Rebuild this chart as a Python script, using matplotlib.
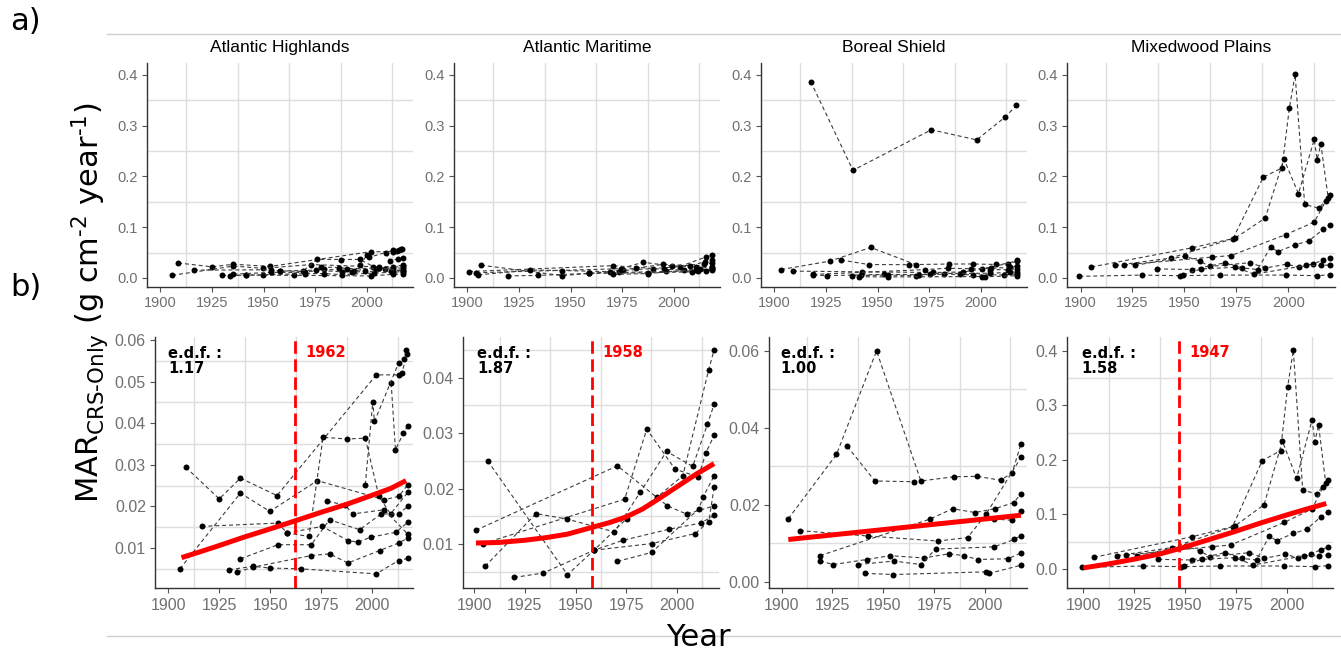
import matplotlib
matplotlib.use("Agg")
import matplotlib.pyplot as plt
from matplotlib.lines import Line2D
from matplotlib.transforms import blended_transform_factory

# ---------------- data ----------------
regions = ["Atlantic Highlands", "Atlantic Maritime", "Boreal Shield", "Mixedwood Plains"]
edf_values = ["1.17", "1.87", "1.00", "1.58"]
breakpoints = [1962, 1958, None, 1947]

# Atlantic Highlands cores
ah_years = [
    [1908.6, 1925, 1935.4, 1953.3, 2002, 2012.9, 2014.5, 2017.1],
    [1905.7, 1935.4, 1949.8, 1973.1, 2006, 2012.9, 2017.5],
    [1916.3, 1953.8, 1958.2, 1969, 1975.9, 1987.6, 1996.6, 2003.3, 2009, 2017.5],
    [1929.9, 1941.6, 1949.8, 1964.9, 2002, 2012.9, 2017.5],
    [1933.9, 1941.6, 1970.1, 1979.1, 1988.1, 2003.6, 2012.9, 2017.5],
    [1935.4, 1953.8, 1970.1, 1979.1, 1993.8, 2004.4, 2012.9, 2017.5],
    [1958.2, 1975.5, 1988.1, 1993, 1999.3, 2011.7, 2017.5],
    [1978, 1986.5, 1990.5, 2006, 2017.5],
    [2009.3, 2011.4, 2015.3, 2017.5],
    [1996.6, 2000.3, 2001.1, 2012.9, 2015.8, 2016.6],
]
ah_mar = [
    [0.0294, 0.0218, 0.0268, 0.0226, 0.0516, 0.0516, 0.0520, 0.0566],
    [0.0050, 0.0232, 0.0188, 0.0262, 0.0216, 0.0224, 0.0252],
    [0.0152, 0.0160, 0.0136, 0.0128, 0.0366, 0.0362, 0.0364, 0.0224, 0.0182, 0.0234],
    [0.0048, 0.0056, 0.0052, 0.0050, 0.0038, 0.0070, 0.0075],
    [0.0042, 0.0054, 0.0082, 0.0086, 0.0064, 0.0094, 0.0112, 0.0124],
    [0.0074, 0.0108, 0.0108, 0.0168, 0.0144, 0.0182, 0.0182, 0.0200],
    [0.0136, 0.0152, 0.0118, 0.0114, 0.0126, 0.0138, 0.0162],
    [0.0212, 0.0204, 0.0182, 0.0192, 0.0133],
    [0.0496, 0.0336, 0.0376, 0.0394],
    [0.0252, 0.0452, 0.0404, 0.0544, 0.0554, 0.0576],
]

# Atlantic Maritime cores
am_years = [
    [1906.6, 1946, 1959.1, 1975.3, 1990.1, 2003, 2015.8, 2018.5],
    [1900.8, 1970.7, 1995.4, 2004.9, 2018.5],
    [1904.4, 1974.3, 1985.2, 1999.2, 2010.7, 2014.5, 2018.5],
    [1905.3, 1930.5, 1946, 1969.2, 1981.9, 1995, 2007.9, 2015.2, 2018.5],
    [1919.6, 1934.1, 1959.1, 1973.6, 1996.4, 2012, 2018.5],
    [1959.1, 1987.6, 2009.1, 2015.8, 2018.5],
    [1970.7, 1987.6, 2011, 2012.9, 2018.5],
]
am_mar = [
    [0.0250, 0.0045, 0.0089, 0.0146, 0.0184, 0.0223, 0.0414, 0.0450],
    [0.0125, 0.0241, 0.0169, 0.0154, 0.0169],
    [0.0101, 0.0181, 0.0307, 0.0235, 0.0221, 0.0265, 0.0296],
    [0.0060, 0.0155, 0.0145, 0.0122, 0.0193, 0.0267, 0.0240, 0.0316, 0.0352],
    [0.0040, 0.0048, 0.0089, 0.0107, 0.0127, 0.0138, 0.0152],
    [0.0089, 0.0101, 0.0119, 0.0140, 0.0202],
    [0.0069, 0.0085, 0.0164, 0.0184, 0.0223],
]

# Boreal Shield cores
bs_years = [
    [1903.3, 1927, 1946.7, 1968.5, 1984.8, 1996.2, 2007.7, 2013.4, 2017.7],
    [1932.3, 1945.9, 1965.2],
    [1909, 1942.6, 1977, 1991.5, 2000.5, 2017.7],
    [1918.9, 1973, 1984.1, 1995.1, 2004.9, 2014.3, 2017.7],
    [1918.9, 1925.4, 1941.8, 1953.3, 1970, 1982.3, 1989.8, 1996.4, 2011.5, 2017.7],
    [1937.7, 1955.2, 1968.5, 1975.7, 2004.6, 2014.4, 2017.7],
    [1941, 1954.9, 2000.5, 2002.1, 2017.7],
    [2004.4, 2013.4, 2017.7],
]
bs_mar = [
    [0.0164, 0.0331, 0.0600, 0.0262, 0.0273, 0.0274, 0.0264, 0.0283, 0.0358],
    [0.0352, 0.0262, 0.0260],
    [0.0133, 0.0119, 0.0106, 0.0115, 0.0175, 0.0323],
    [0.0068, 0.0163, 0.0190, 0.0180, 0.0190, 0.0206, 0.0229],
    [0.0054, 0.0045, 0.0058, 0.0068, 0.0062, 0.0073, 0.0068, 0.0058, 0.0060, 0.0075],
    [0.0045, 0.0054, 0.0045, 0.0085, 0.0091, 0.0110, 0.0120],
    [0.0022, 0.0019, 0.0026, 0.0022, 0.0043],
    [0.0163, 0.0160, 0.0183],
]
# Boreal Shield core shown only in panel a)
bs_outlier_years = [1917.6, 1938.1, 1976.1, 1998.1, 2011.9, 2017.4]
bs_outlier_mar = [0.387, 0.212, 0.292, 0.272, 0.317, 0.340]

# Mixedwood Plains cores
mp_years = [
    [1899.5, 1929.5, 1947.9, 1967.2, 1998.9, 2013.9, 2020.2],
    [1905.2, 1953.6, 1973.4, 1988, 1997, 2000.5, 2003.3, 2007.9, 2014.8, 2020.2],
    [1916.7, 1943.4, 1974.6, 1988.9, 1997.9, 2004.9, 2012.5, 2013.9, 2015.7, 2019.2],
    [1921, 1963.1, 1972.5, 1998.9, 2012.5, 2018],
    [1926.2, 1950.3, 1957.4, 1962.3, 1981.6, 1989, 1999.2, 2005.4, 2011.8, 2016.7, 2020.2],
    [1936.9, 1953.6, 1969.7, 1977.9, 1985.2, 1991.5, 1995.1, 2003.3, 2009.8, 2016.9, 2020.2],
    [1949.5, 1958.2, 1974.6, 1983.6, 2008.5, 2016, 2020.2],
]
mp_mar = [
    [0.003, 0.0055, 0.0043, 0.0055, 0.0055, 0.0043, 0.0061],
    [0.0214, 0.0592, 0.0775, 0.1985, 0.2168, 0.334, 0.401, 0.1447, 0.1374, 0.163],
    [0.0244, 0.0391, 0.0788, 0.1179, 0.2345, 0.166, 0.273, 0.2333, 0.2638, 0.158],
    [0.0256, 0.0409, 0.044, 0.0855, 0.110, 0.151],
    [0.0244, 0.0427, 0.033, 0.0226, 0.0299, 0.0195, 0.0269, 0.0208, 0.0275, 0.0348, 0.040],
    [0.0177, 0.0165, 0.0299, 0.0195, 0.0165, 0.0604, 0.0519, 0.0653, 0.0727, 0.0959, 0.105],
    [0.006, 0.0177, 0.0208, 0.0073, 0.0244, 0.0244, 0.0256],
]

# GAM fits (red lines)
ah_fit_year = [1906.5, 1915, 1925, 1937, 1950, 1962, 1975, 1988, 2000, 2009, 2016.6]
ah_fit_mar = [0.0077, 0.0090, 0.0106, 0.0126, 0.0146, 0.0165, 0.0186, 0.0206, 0.0227, 0.0243, 0.0262]
am_fit_year = [1900.8, 1912, 1925, 1936, 1946, 1959, 1967, 1975, 1983, 1990, 2000, 2010, 2018.5]
am_fit_mar = [0.0102, 0.0103, 0.0107, 0.0112, 0.0118, 0.0131, 0.0139, 0.0149, 0.0163, 0.0179,
              0.0203, 0.0227, 0.0245]
bs_fit_year = [1903.3, 2017.7]
bs_fit_mar = [0.0110, 0.0173]
mp_fit_year = [1900, 1912, 1925, 1937, 1947, 1961, 1974, 1987, 2000, 2010, 2019.5]
mp_fit_mar = [0.002, 0.009, 0.018, 0.027, 0.037, 0.053, 0.068, 0.084, 0.099, 0.110, 0.120]

core_years = [ah_years, am_years, bs_years, mp_years]
core_mar = [ah_mar, am_mar, bs_mar, mp_mar]
fit_years = [ah_fit_year, am_fit_year, bs_fit_year, mp_fit_year]
fit_mar = [ah_fit_mar, am_fit_mar, bs_fit_mar, mp_fit_mar]

x_major = [1900, 1925, 1950, 1975, 2000]
x_minor = [1912.5, 1937.5, 1962.5, 1987.5, 2012.5]

# ---------------- layout / style ----------------
W, H = 1341, 653
fig = plt.figure(figsize=(W / 100, H / 100), dpi=100)
fig.patch.set_facecolor("white")

def rect(l, t, r, b):
    return [l / W, 1 - b / H, (r - l) / W, (b - t) / H]

top_rects = [(147, 63, 413, 287), (454, 63, 720, 287), (761, 63, 1027, 287), (1067, 63, 1335, 287)]
bot_rects = [(155, 337, 413, 588), (463, 337, 719, 588), (769, 337, 1027, 588), (1067, 337, 1333, 588)]
bot_xlims = [(1893.5, 2020), (1894.4, 2020.9), (1893.8, 2020.7), (1892, 2022.8)]
bot_ylims = [(0.0004, 0.0607), (0.0021, 0.0473), (-0.0016, 0.0636), (-0.0348, 0.425)]
bot_yticks = [[0.01, 0.02, 0.03, 0.04, 0.05, 0.06], [0.01, 0.02, 0.03, 0.04],
              [0.0, 0.02, 0.04, 0.06], [0.0, 0.1, 0.2, 0.3, 0.4]]
bot_yminor = [[0.005, 0.015, 0.025, 0.035, 0.045, 0.055], [0.005, 0.015, 0.025, 0.035, 0.045],
              [0.01, 0.03, 0.05], [0.05, 0.15, 0.25, 0.35]]
bot_yfmt = ["%.2f", "%.2f", "%.2f", "%.1f"]
edf_x = [0.05, 0.055, 0.045, 0.055]

TICKFONT = "Liberation Sans"
LINE_KW = dict(color="#3c3c3c", lw=0.8, ls=(0, (3.6, 2.6)), marker="o", ms=4.3,
               mfc="black", mec="black", mew=0, zorder=2)


def style(ax, xlim, ylim, yticks, yminor, fmt, fs):
    ax.set_xlim(*xlim)
    ax.set_ylim(*ylim)
    ax.set_xticks(x_major)
    ax.set_xticklabels([str(v) for v in x_major])
    ax.set_xticks(x_minor, minor=True)
    ax.set_yticks(yticks)
    ax.set_yticklabels([fmt % v for v in yticks])
    ax.set_yticks(yminor, minor=True)
    ax.grid(which="minor", color="#dedede", lw=1.0, zorder=0)
    ax.grid(which="major", visible=False)
    ax.set_axisbelow(True)
    for s in ("top", "right"):
        ax.spines[s].set_visible(False)
    for s in ("left", "bottom"):
        ax.spines[s].set_color("#333333")
        ax.spines[s].set_linewidth(1.0)
    ax.tick_params(which="major", direction="out", length=3.5, width=0.8, color="#555555",
                   labelcolor="#707070", labelsize=fs, pad=3)
    ax.tick_params(which="minor", length=0)
    for lab in ax.get_xticklabels() + ax.get_yticklabels():
        lab.set_fontfamily(TICKFONT)


# top row (a)
for i in range(4):
    ax = fig.add_axes(rect(*top_rects[i]))
    for yrs, vals in zip(core_years[i], core_mar[i]):
        ax.plot(yrs, vals, **LINE_KW)
    if i == 2:
        ax.plot(bs_outlier_years, bs_outlier_mar, **LINE_KW)
    style(ax, (1893.5, 2022.5), (-0.018, 0.4236), [0.0, 0.1, 0.2, 0.3, 0.4],
          [0.05, 0.15, 0.25, 0.35], "%.1f", 10.5)
    ax.set_title(regions[i], fontsize=12.5, fontfamily="Liberation Sans", color="black", pad=8)

# bottom row (b)
for i in range(4):
    ax = fig.add_axes(rect(*bot_rects[i]))
    for yrs, vals in zip(core_years[i], core_mar[i]):
        ax.plot(yrs, vals, **LINE_KW)
    ax.plot(fit_years[i], fit_mar[i], color="red", lw=3.6, solid_capstyle="butt",
            solid_joinstyle="round", zorder=3)
    style(ax, bot_xlims[i], bot_ylims[i], bot_yticks[i], bot_yminor[i], bot_yfmt[i], 11.5)
    ax.tick_params(axis="x", pad=4)
    ax.text(edf_x[i], 0.965, "e.d.f. :\n" + edf_values[i], transform=ax.transAxes,
            ha="left", va="top", fontsize=10.5, fontweight="bold", color="black",
            linespacing=1.0, zorder=5)
    bp = breakpoints[i]
    if bp is not None:
        ax.axvline(bp, color="red", lw=2.0, ls=(0, (4.5, 2.0)), zorder=4)
        tr = blended_transform_factory(ax.transData, ax.transAxes)
        ax.text(bp + 5, 0.937, str(bp), transform=tr, ha="left", va="center",
                fontsize=10.5, fontweight="bold", color="red", zorder=5)

# separators
fig.add_artist(Line2D([107 / W, 1.0], [1 - 34 / H] * 2, color="#d0d0d0", lw=1.0,
                      transform=fig.transFigure))
fig.add_artist(Line2D([107 / W, 1.0], [1 - 636 / H] * 2, color="#d0d0d0", lw=1.0,
                      transform=fig.transFigure))

# panel letters and axis titles
fig.text(10 / W, 1 - 22 / H, "a)", fontsize=22, ha="left", va="center", fontfamily="DejaVu Sans")
fig.text(10 / W, 1 - 288 / H, "b)", fontsize=22, ha="left", va="center", fontfamily="DejaVu Sans")
plt.rcParams["mathtext.fontset"] = "dejavusans"
fig.text(90 / W, 1 - 303 / H,
         "MAR$_{\\mathrm{CRS\u2010Only}}$ (g cm$^{\\mathrm{\u20102}}$ year$^{\\mathrm{\u20101}}$)",
         rotation=90, fontsize=22, ha="center", va="center", fontfamily="DejaVu Sans")
fig.text(698 / W, 1 - 638 / H, "Year", fontsize=22, ha="center", va="center",
         fontfamily="DejaVu Sans")

fig.savefig("out.png", dpi=100, facecolor="white")
